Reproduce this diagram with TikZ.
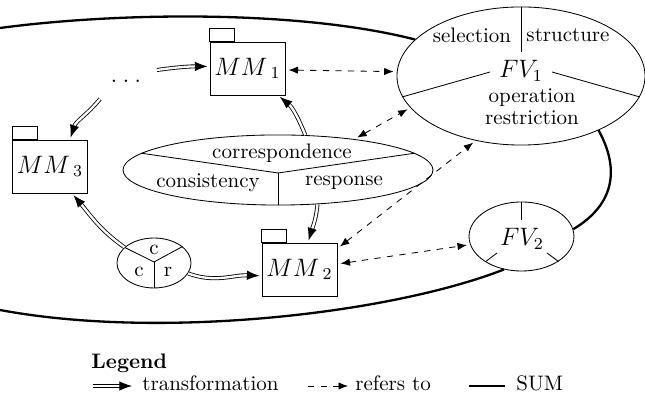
\documentclass[tikz,border=0pt]{standalone}
\usetikzlibrary{shapes.geometric,arrows.meta}
\begin{document}
\begin{tikzpicture}[x=0.4765pt,y=-0.4765pt,
  pkg/.style={draw, rectangle, minimum width=35.74pt, minimum height=25.25pt, inner sep=0pt, font=\large},
  view/.style={draw, ellipse, inner sep=0pt},
  txt/.style={inner sep=0pt},
  trans/.style={double, double distance=1.1pt, -{Latex[length=6pt,width=4.5pt]}, shorten >=1pt},
  refs/.style={dashed, {Latex[length=4.5pt,width=3.5pt]}-{Latex[length=4.5pt,width=3.5pt]}, shorten <=1.5pt, shorten >=1.5pt},
  sum/.style={line width=1.1pt}
]
\useasboundingbox (0,0) rectangle (645,399);

% metamodel packages
\node[pkg] (mm1) at (247.5,68.5) {$MM\kern1.6pt{}_1$};
\node[pkg] (mm2) at (299.5,269.5) {$MM\kern1.6pt{}_2$};
\node[pkg] (mm3) at (50,166.5) {$MM\kern1.6pt{}_3$};
\foreach \m in {mm1,mm2,mm3}
  \draw (\m.north west) rectangle ++(11.9pt,6.2pt);

% feature views and the consistency element
\node[view, minimum width=118.2pt, minimum height=65.8pt] (fv1) at (521,76) {};
\node[view, minimum width=50pt, minimum height=32.9pt] (fv2) at (521.5,236.5) {};
\node[view, minimum width=147.7pt, minimum height=33.4pt] (corr) at (278,170) {};
\node[view, minimum width=35.3pt, minimum height=23.8pt] (cc) at (154,263) {};

% FV1 compartments
\node (fv1t) at (521,71) {\large $FV_1$};
\draw (fv1.north) -- ++(0,45);
\draw (fv1.190) -- (490,72);
\draw (fv1.-10) -- (552,72);
\node[txt] (sel) at (472,35) {selection};
\node[txt] (str) at (568,35) {structure};
\node[txt] (ope) at (532,98) {operation};
\node[txt] (res) at (532,118) {restriction};

% FV2 compartments
\node (fv2t) at (522,239) {\large $FV_2$};
\draw (fv2.north) -- ++(0,18);
\draw (fv2.-145) -- (497,253);
\draw (fv2.-34) -- (547,253);

% correspondence / consistency / response
\coordinate (cj) at (278,173);
\draw (corr.173) -- (cj) -- (corr.7);
\draw (cj) -- (corr.south);
\node[txt] (tcorr) at (282,153) {correspondence};
\node[txt] (tcons) at (208,183) {consistency};
\node[txt] (tresp) at (344,183) {response};

% small c/c/r element
\coordinate (ccj) at (154,262);
\draw (cc.152) -- (ccj) -- (cc.30);
\draw (ccj) -- (cc.south);
\node[txt] (cc1) at (154,250) {c};
\node[txt] (cc2) at (139,272) {c};
\node[txt] (cc3) at (168,272) {r};

% further metamodels
\node[anchor=base, inner sep=0pt] (dots) at (126,83) {\large .\hspace{2.4pt}.\hspace{2.4pt}.};
\coordinate (d1) at (157,70);
\coordinate (d2) at (100,99);

% transformations
\draw[trans] (d1) to[out=8,in=180] ([yshift=1pt]mm1.west);
\draw[trans] (d2) to[out=-129,in=72] ([xshift=9.5pt]mm3.north);
\draw[trans] (cc.152) to[out=145,in=-50] ([xshift=10.5pt]mm3.south);
\draw[trans] (cc.-17) to[out=-20,in=178] ([yshift=-3pt]mm2.west);
\draw[trans] (corr.52) to[out=112,in=-40] ([xshift=-3.5pt]mm1.south east);
\draw[trans] (corr.-41) to[out=-95,in=73] ([xshift=4pt]mm2.north);

% references
\draw[refs] ([yshift=-0.7pt]mm1.east) -- (fv1.178);
\draw[refs] (corr.22) -- (fv1.196);
\draw[refs] ([yshift=10pt]mm2.east) -- (fv1.235);
\draw[refs] ([yshift=2.6pt]mm2.east) -- (fv2.189);

% SUM outline
\draw[sum] (fv1.161) .. controls (300,10) and (120,12) .. (0,28);
\draw[sum] (fv1.-35) .. controls (615,160) and (622,200) .. (fv2.8);
\draw[sum] (fv2.-118) .. controls (390,314) and (160,340) .. (0,310);

% legend
\node[anchor=base west, inner sep=0pt, font=\bfseries] (leg) at (91,369) {Legend};
\coordinate (l1a) at (93,386);
\coordinate (l1b) at (132,386);
\draw[trans, shorten >=0pt] (l1a) -- (l1b);
\node[anchor=base west, inner sep=0pt] (ltr) at (142,391) {transformation};
\coordinate (l2a) at (308,386);
\coordinate (l2b) at (348,386);
\draw[dashed, -{Latex[length=4.5pt,width=3.5pt]}] (l2a) -- (l2b);
\node[anchor=base west, inner sep=0pt] (lref) at (355,391) {refers to};
\coordinate (l3a) at (469,386);
\coordinate (l3b) at (505,386);
\draw[sum] (l3a) -- (l3b);
\node[anchor=base west, inner sep=0pt] (lsum) at (516,391) {SUM};
\end{tikzpicture}
\end{document}
